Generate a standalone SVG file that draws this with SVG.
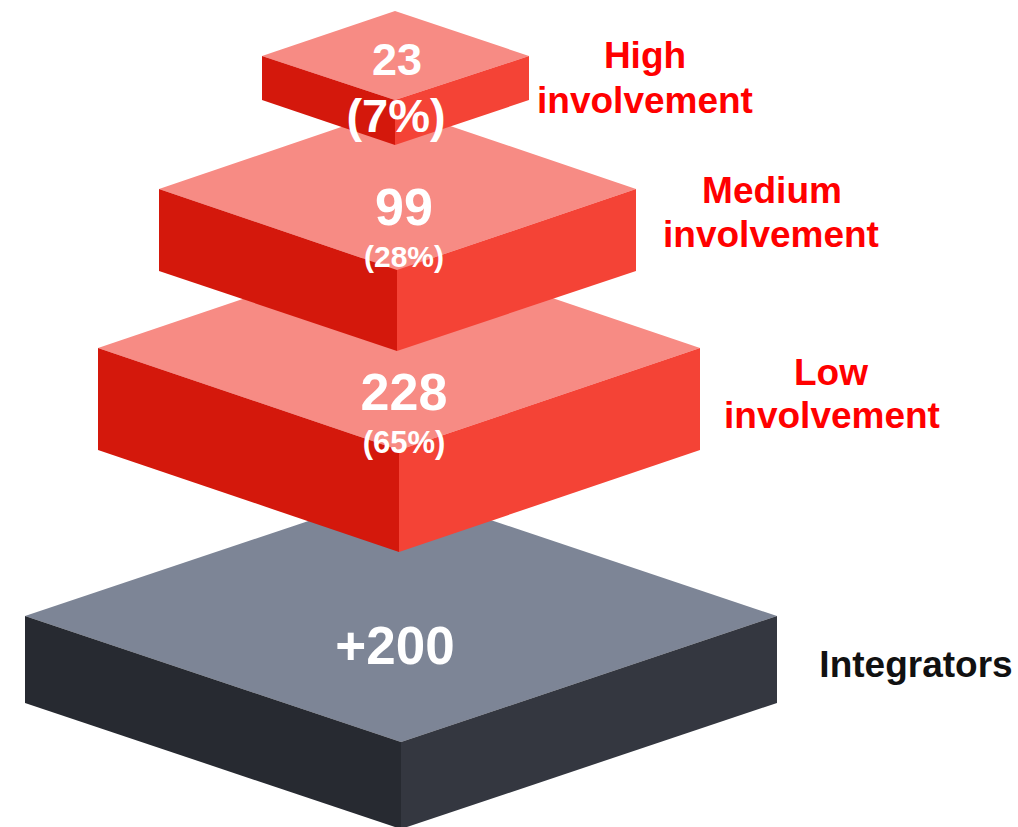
<svg xmlns="http://www.w3.org/2000/svg" width="1018" height="827" viewBox="0 0 1018 827">
<style>
.top{fill:#F78B84}
.lf{fill:#D4180C}
.rf{fill:#F44336}
.gtop{fill:#7D8596}
.glf{fill:#272A31}
.grf{fill:#343740}
text{font-family:"Liberation Sans",Arial,sans-serif;font-weight:bold;text-anchor:middle}
.num{fill:#FFFFFF}
.lbl{fill:#FF0000;font-size:37px}
.dark{fill:#111111;font-size:37px}
</style>
<rect width="1018" height="827" fill="#FFFFFF"/>
<g id="integrators">
<polygon class="gtop" points="401,490 777,616 401,742 25,616"/>
<polygon class="glf" points="25,616 401,742 401,829 25,703"/>
<polygon class="grf" points="401,742 777,616 777,703 401,829"/>
<text class="num" x="395" y="664" font-size="53">+200</text>
</g>
<g id="low">
<polygon class="top" points="399,246 700,348 399,450 98,348"/>
<polygon class="lf" points="98,348 399,450 399,552 98,450"/>
<polygon class="rf" points="399,450 700,348 700,450 399,552"/>
<text class="num" x="404" y="410" font-size="52">228</text>
<text class="num" x="404" y="453" font-size="31">(65%)</text>
</g>
<g id="medium">
<polygon class="top" points="397,108 636,189 397,270 159,189"/>
<polygon class="lf" points="159,189 397,270 397,351 159,271"/>
<polygon class="rf" points="397,270 636,189 636,271 397,351"/>
<text class="num" x="404" y="225" font-size="52">99</text>
<text class="num" x="404" y="267" font-size="30">(28%)</text>
</g>
<g id="high">
<polygon class="top" points="395,11 529,56 395,100 262,56"/>
<polygon class="lf" points="262,56 395,100 395,145 262,100"/>
<polygon class="rf" points="395,100 529,56 529,100 395,145"/>
<text class="num" x="397" y="75" font-size="45">23</text>
<text class="num" x="396" y="132" font-size="47">(7%)</text>
</g>
<g id="labels">
<text class="lbl" x="645" y="68">High</text>
<text class="lbl" x="645" y="113">involvement</text>
<text class="lbl" x="772" y="203">Medium</text>
<text class="lbl" x="771" y="247">involvement</text>
<text class="lbl" x="831" y="385">Low</text>
<text class="lbl" x="832" y="428">involvement</text>
<text class="dark" x="916" y="677">Integrators</text>
</g>
<g id="connectors"></g>
</svg>
